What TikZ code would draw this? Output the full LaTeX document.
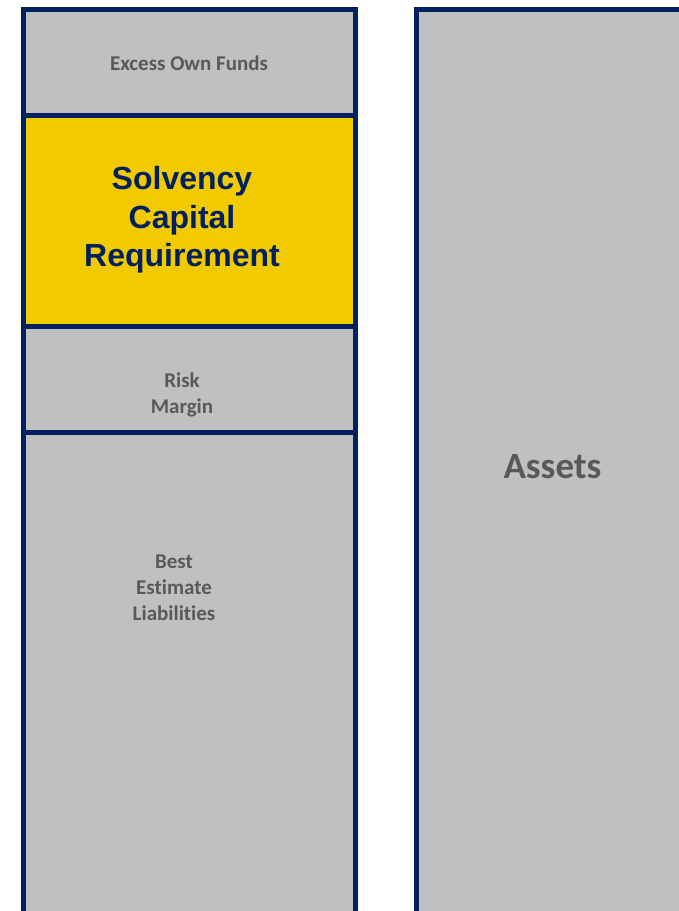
\documentclass[tikz,border=0pt]{standalone}
\usepackage{fontspec}
\setmainfont[Ligatures=NoCommon]{Carlito}
\newfontfamily\scrfont{Liberation Sans}
\definecolor{navy}{HTML}{002060}
\definecolor{panel}{HTML}{C0C0C0}
\definecolor{gold}{HTML}{F2CA00}
\definecolor{labelgray}{HTML}{595959}
\begin{document}
\begin{tikzpicture}[x=1pt, y=-1pt,
  block/.style={draw=navy, line width=5pt},
  small/.style={text=labelgray, align=center, font=\bfseries\fontsize{21}{26}\selectfont},
  big/.style={text=navy, align=center, font=\scrfont\bfseries\fontsize{32}{38.5}\selectfont}]
\clip (0,0) rectangle (679,911);
% left column, top to bottom
\draw[block, fill=panel] (23.5,9.5) rectangle (355.5,115);
\draw[block, fill=gold] (23.5,115) rectangle (355.5,326.5);
\draw[block, fill=panel] (23.5,326.5) rectangle (355.5,432.5);
\draw[block, fill=panel] (23.5,432.5) rectangle (355.5,940);
% right column
\draw[block, fill=panel] (416.5,9.5) rectangle (700,940);
% labels
\node[small] (excess) at (189,63) {Excess Own Funds};
\node[big] (scr) at (182,220) {Solvency\\Capital\\Requirement};
\node[small] (risk) at (182,395) {Risk\\Margin};
\node[small] (bel) at (174,588) {Best\\Estimate\\Liabilities};
\node[small, font=\bfseries\fontsize{37}{44}\selectfont] (assets) at (552.5,467) {Assets};
\end{tikzpicture}
\end{document}
